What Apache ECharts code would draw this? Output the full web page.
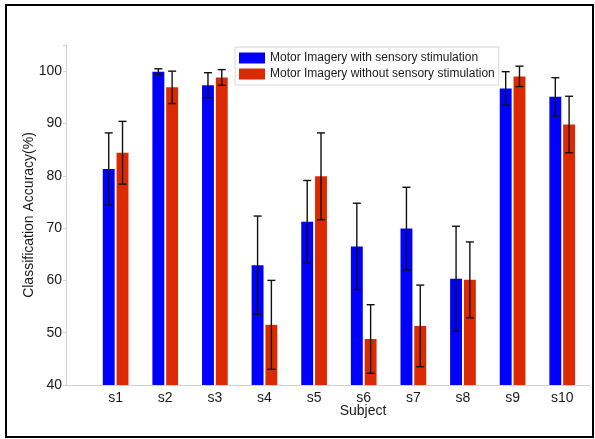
<!DOCTYPE html>
<html>
<head>
<meta charset="utf-8">
<script src="https://cdn.jsdelivr.net/npm/echarts@6/dist/echarts.min.js"></script>
<style>
  html, body { margin: 0; padding: 0; background: #fff; }
  #main { width: 595px; height: 439px; }
</style>
</head>
<body>
<div id="main"></div>
<script>
// 数据
var subjects = ['s1', 's2', 's3', 's4', 's5', 's6', 's7', 's8', 's9', 's10'];
var withStim = [81.3, 99.9, 97.3, 62.9, 71.2, 66.5, 69.9, 60.3, 96.7, 95.1];
var withStimErr = [6.9, 0.55, 2.4, 9.4, 7.9, 8.25, 7.9, 10.05, 3.2, 3.65];
var withoutStim = [84.4, 96.9, 98.8, 51.5, 79.9, 48.8, 51.3, 60.1, 99.0, 89.8];
var withoutStimErr = [6.0, 3.1, 1.5, 8.5, 8.3, 6.55, 7.8, 7.25, 1.95, 5.4];
var yTicks = [40, 50, 60, 70, 80, 90, 100];

var fontFamily = "'Liberation Sans', Arial, sans-serif";
var textColor = '#1a1a1a';
var axisColor = '#d3d3d3';

function makeData (vals, errs) {
  return vals.map(function (v, i) { return [i + 1, v, errs[i]]; });
}

// 柱子 + 误差线
function barRenderer (offset) {
  return function (params, api) {
    var x = api.value(0), v = api.value(1), e = api.value(2);
    var unit = api.size([1, 0])[0];
    var w = unit * 0.24;
    var top = api.coord([x + offset, v]);
    var base = api.coord([x + offset, yTicks[0]]);
    var hi = api.coord([x + offset, v + e]);
    var lo = api.coord([x + offset, v - e]);
    var cap = 4;
    var lineStyle = { stroke: '#111', lineWidth: 1.4 };
    return {
      type: 'group',
      children: [{
        type: 'rect',
        shape: { x: top[0] - w / 2, y: top[1], width: w, height: base[1] - top[1] },
        style: { fill: api.visual('color') }
      }, {
        type: 'line',
        shape: { x1: hi[0], y1: hi[1], x2: lo[0], y2: lo[1] },
        style: lineStyle
      }, {
        type: 'line',
        shape: { x1: hi[0] - cap, y1: hi[1], x2: hi[0] + cap, y2: hi[1] },
        style: lineStyle
      }, {
        type: 'line',
        shape: { x1: lo[0] - cap, y1: lo[1], x2: lo[0] + cap, y2: lo[1] },
        style: lineStyle
      }]
    };
  };
}

var chart = echarts.init(document.getElementById('main'));
var option = {
  backgroundColor: '#fff',
  animation: false,
  textStyle: { fontFamily: fontFamily },
  grid: { left: 66, right: 5, top: 45, bottom: 54 },
  legend: {
    orient: 'vertical',
    left: 235,
    top: 47,
    padding: [5, 4, 5, 4],
    itemGap: 4,
    itemWidth: 26,
    itemHeight: 11,
    icon: 'rect',
    backgroundColor: '#fff',
    borderColor: '#d6d6d6',
    borderWidth: 1,
    borderRadius: 0,
    textStyle: { fontSize: 12, color: textColor, fontFamily: fontFamily },
    data: ['Motor Imagery with sensory stimulation', 'Motor Imagery without sensory stimulation']
  },
  xAxis: {
    type: 'value',
    min: 0,
    max: 10.56,
    interval: 1,
    splitLine: { show: false },
    axisTick: { show: false },
    axisLine: { lineStyle: { color: axisColor } },
    axisLabel: {
      fontSize: 14,
      color: textColor,
      margin: 6,
      formatter: function (v) {
        return (Number.isInteger(v) && v >= 1 && v <= subjects.length) ? subjects[v - 1] : '';
      }
    }
  },
  yAxis: {
    type: 'value',
    min: 40,
    max: 105,
    interval: 10,
    name: 'Classification Accuracy(%)',
    nameLocation: 'middle',
    nameGap: 30,
    nameMoveOverlap: false,
    nameTextStyle: { fontSize: 14, color: textColor },
    splitLine: { show: false },
    axisLine: { show: true, lineStyle: { color: axisColor } },
    axisTick: { show: true, length: 3, lineStyle: { color: axisColor } },
    axisLabel: {
      fontSize: 14,
      color: textColor,
      margin: 4,
      formatter: function (v) { return yTicks.indexOf(v) >= 0 ? String(v) : ''; }
    }
  },
  graphic: [{
    type: 'rect',
    shape: { x: 6, y: 5, width: 587, height: 432 },
    style: { fill: 'none', stroke: '#000', lineWidth: 2 },
    silent: true
  }, {
    type: 'text',
    x: 363,
    y: 411,
    style: {
      text: 'Subject', fontSize: 14, fill: textColor, fontFamily: fontFamily,
      align: 'center', verticalAlign: 'middle'
    }
  }],
  series: [{
    name: 'Motor Imagery with sensory stimulation',
    type: 'custom',
    itemStyle: { color: '#0000ff' },
    encode: { x: 0, y: 1 },
    renderItem: barRenderer(-0.139),
    data: makeData(withStim, withStimErr)
  }, {
    name: 'Motor Imagery without sensory stimulation',
    type: 'custom',
    itemStyle: { color: '#db2a00' },
    encode: { x: 0, y: 1 },
    renderItem: barRenderer(0.139),
    data: makeData(withoutStim, withoutStimErr)
  }]
};
chart.setOption(option);
</script>
</body>
</html>
